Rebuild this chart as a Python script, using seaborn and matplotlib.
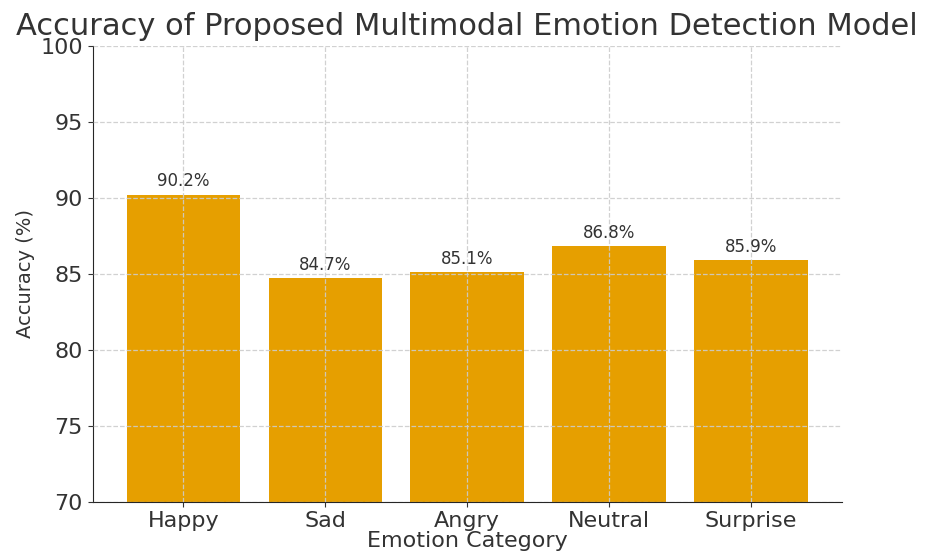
import numpy as np
import pandas as pd
import matplotlib
matplotlib.use("Agg")
import matplotlib.pyplot as plt
import seaborn as sns

# Data
emotions = ["Happy", "Sad", "Angry", "Neutral", "Surprise"]
accuracy = [90.2, 84.7, 85.1, 86.8, 85.9]

df = pd.DataFrame({"Emotion": emotions, "Accuracy": accuracy})

sns.set_style("ticks")
plt.rcParams["font.family"] = ["DejaVu Sans"]

fig = plt.figure(figsize=(9.26, 5.52), dpi=100)
ax = fig.add_axes([0.100, 0.091, 0.809, 0.826])

sns.barplot(data=df, x="Emotion", y="Accuracy", color="#E69F00", saturation=1,
            width=0.8, linewidth=0, ax=ax, zorder=1)

# Value labels above each bar
for i, v in enumerate(accuracy):
    ax.text(i, v + 0.3, f"{v}%", ha="center", va="bottom", fontsize=12, color="#333333")

ax.set_ylim(70, 100)
ax.set_xlim(-0.64, 4.64)
ax.set_yticks(np.arange(70, 101, 5))
ax.set_axisbelow(False)
ax.grid(True, linestyle="--", color="#cccccc", linewidth=0.9, alpha=0.9, zorder=2)

ax.set_title("Accuracy of Proposed Multimodal Emotion Detection Model",
             fontsize=22, color="#333333", pad=8)
ax.set_xlabel("Emotion Category", fontsize=16, color="#333333", labelpad=0)
ax.set_ylabel("Accuracy (%)", fontsize=14, color="#333333")
ax.tick_params(axis="both", labelsize=16, colors="#333333")
sns.despine(ax=ax)

fig.savefig("out.png", dpi=100)
